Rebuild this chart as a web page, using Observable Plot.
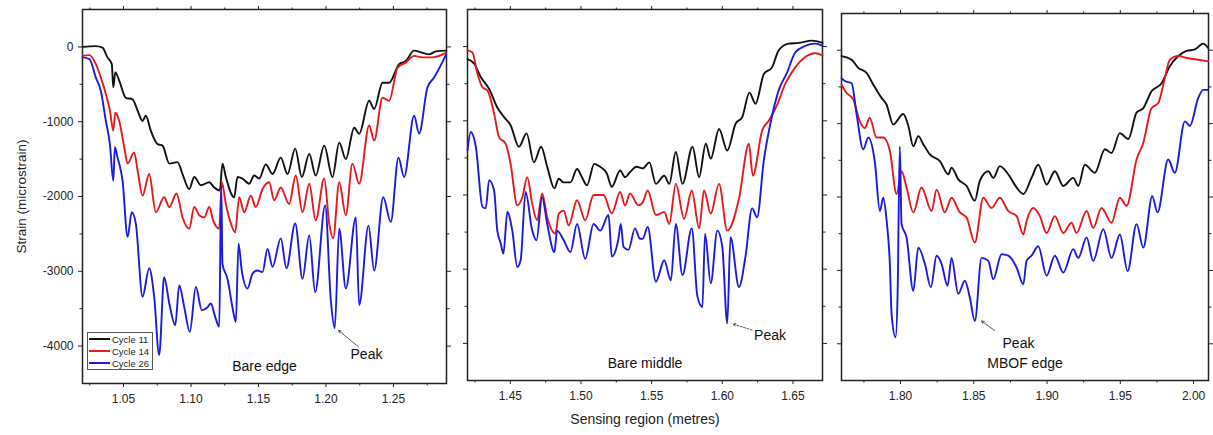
<!DOCTYPE html>
<html>
<head>
<meta charset="utf-8">
<script src="https://cdn.jsdelivr.net/npm/d3@7"></script>
<script src="https://cdn.jsdelivr.net/npm/@observablehq/plot@0.6"></script>
<style>
  body { margin: 0; background: #fff; font-family: "Liberation Sans", Arial, sans-serif; }
  #wrap { position: relative; width: 1213px; height: 435px; overflow: hidden; }
  .panel { position: absolute; top: 0; }
  #legend { position: absolute; left: 87px; top: 332px; width: 66px; border: 1px solid #555; background: #fff; box-sizing: border-box; padding: 0; }
  .row { display: flex; align-items: center; height: 12px; font-size: 9.5px; color: #222; white-space: nowrap; }
  .sw { width: 21px; height: 2.5px; margin: 0 2px 0 1px; flex: none; }
</style>
</head>
<body>
<div id="wrap"></div>
<script>
// ---------- categories / labels ----------
const cycles = ["Cycle 11", "Cycle 14", "Cycle 26"];
const colors = ["#111111", "#e8191b", "#1a1ae0"];
const panelNames = ["Bare edge", "Bare middle", "MBOF edge"];
const yTicksMajor = [0, -1000, -2000, -3000, -4000];
const yTicksMinor = [-500, -1500, -2500, -3500];
const xTicksMajor = [[1.05, 1.10, 1.15, 1.20, 1.25], [1.45, 1.50, 1.55, 1.60, 1.65], [1.80, 1.85, 1.90, 1.95, 2.00]];
const xTicksMinor = [[1.025, 1.075, 1.125, 1.175, 1.225, 1.275], [1.425, 1.475, 1.525, 1.575, 1.625], [1.775, 1.825, 1.875, 1.925, 1.975]];
const xDomains = [[1.0196, 1.2893], [1.4197, 1.6709], [1.7597, 2.0102]];
const yDomain = [-4500, 500];

// ---------- series values: [position (m), strain (microstrain)] ----------
const bareEdge11 = [[1.0196,0],[1.0295,10],[1.0344,-10],[1.0381,-140],[1.0413,-230],[1.0424,-540],[1.0439,-340],[1.0468,-450],[1.0517,-680],[1.0567,-700],[1.0604,-850],[1.0641,-990],[1.0665,-920],[1.0702,-1120],[1.0752,-1300],[1.0789,-1320],[1.0839,-1560],[1.0900,-1540],[1.0937,-1700],[1.0987,-1900],[1.1024,-1740],[1.1073,-1850],[1.1135,-1810],[1.1172,-1880],[1.1213,-1920],[1.1233,-1560],[1.1258,-1740],[1.1320,-2010],[1.1344,-1740],[1.1381,-1760],[1.1431,-1830],[1.1468,-1720],[1.1505,-1760],[1.1554,-1570],[1.1604,-1700],[1.1665,-1480],[1.1715,-1700],[1.1772,-1360],[1.1821,-1740],[1.1876,-1430],[1.1924,-1720],[1.1987,-1320],[1.2048,-1740],[1.2098,-1280],[1.2147,-1500],[1.2209,-1080],[1.2246,-1160],[1.2320,-720],[1.2357,-830],[1.2419,-480],[1.2468,-480],[1.2542,-230],[1.2591,-190],[1.2653,-50],[1.2715,-80],[1.2764,-100],[1.2813,-60],[1.2891,-50]];
const bareEdge14 = [[1.0196,-120],[1.0246,-110],[1.0295,-230],[1.0332,-410],[1.0369,-630],[1.0399,-850],[1.0424,-1120],[1.0439,-880],[1.0468,-990],[1.0505,-1340],[1.0530,-1560],[1.0579,-1410],[1.0604,-1650],[1.0641,-1990],[1.0690,-1700],[1.0739,-2210],[1.0801,-2010],[1.0839,-2140],[1.0893,-1960],[1.0937,-2280],[1.0987,-2430],[1.1024,-2140],[1.1061,-2250],[1.1098,-2280],[1.1135,-2140],[1.1164,-2320],[1.1209,-2430],[1.1228,-1810],[1.1258,-2100],[1.1295,-2360],[1.1327,-2480],[1.1357,-2010],[1.1394,-2210],[1.1443,-1990],[1.1480,-2140],[1.1530,-1900],[1.1579,-1810],[1.1616,-2050],[1.1665,-1880],[1.1727,-2100],[1.1776,-1720],[1.1826,-2210],[1.1876,-1830],[1.1924,-2320],[1.1987,-1760],[1.2024,-2360],[1.2053,-2560],[1.2098,-1810],[1.2147,-2250],[1.2196,-1560],[1.2246,-1830],[1.2320,-1050],[1.2357,-1250],[1.2419,-680],[1.2468,-720],[1.2530,-280],[1.2591,-210],[1.2653,-120],[1.2715,-140],[1.2789,-140],[1.2887,-80]];
const bareEdge26 = [[1.0196,-140],[1.0246,-160],[1.0295,-410],[1.0332,-590],[1.0369,-990],[1.0399,-1300],[1.0424,-1790],[1.0436,-1340],[1.0456,-1480],[1.0493,-1790],[1.0530,-2540],[1.0561,-2210],[1.0591,-2360],[1.0641,-3340],[1.0690,-2960],[1.0727,-3340],[1.0764,-4120],[1.0801,-3080],[1.0839,-3430],[1.0883,-3720],[1.0913,-3190],[1.0950,-3480],[1.0991,-3810],[1.1036,-3210],[1.1080,-3520],[1.1122,-3480],[1.1147,-3430],[1.1179,-3610],[1.1209,-3740],[1.1224,-1850],[1.1233,-2900],[1.1270,-3100],[1.1307,-3480],[1.1332,-3680],[1.1352,-2630],[1.1376,-2990],[1.1419,-3230],[1.1456,-3030],[1.1493,-2990],[1.1530,-3010],[1.1567,-2700],[1.1604,-2940],[1.1665,-2560],[1.1707,-2960],[1.1772,-2360],[1.1826,-3100],[1.1876,-2520],[1.1920,-3280],[1.1994,-2120],[1.2036,-3390],[1.2065,-3760],[1.2098,-2430],[1.2147,-3230],[1.2221,-2280],[1.2246,-3450],[1.2315,-2390],[1.2357,-2990],[1.2424,-2010],[1.2480,-2340],[1.2537,-1480],[1.2579,-1740],[1.2653,-920],[1.2690,-1160],[1.2752,-540],[1.2801,-410],[1.2891,-100]];

const bareMiddle11 = [[1.4197,-170],[1.4244,-230],[1.4291,-410],[1.4350,-570],[1.4408,-820],[1.4456,-950],[1.4502,-1060],[1.4561,-1350],[1.4615,-1170],[1.4667,-1560],[1.4718,-1350],[1.4761,-1620],[1.4812,-1910],[1.4843,-1780],[1.4878,-1830],[1.4925,-1830],[1.4972,-1650],[1.5007,-1760],[1.5042,-1870],[1.5094,-1580],[1.5136,-1620],[1.5183,-1710],[1.5218,-1890],[1.5277,-1670],[1.5312,-1760],[1.5347,-1690],[1.5394,-1620],[1.5437,-1640],[1.5484,-1560],[1.5530,-1850],[1.5589,-1740],[1.5625,-1850],[1.5671,-1420],[1.5718,-1850],[1.5789,-1350],[1.5836,-1760],[1.5883,-1310],[1.5918,-1510],[1.5977,-1110],[1.6035,-1400],[1.6094,-1040],[1.6141,-950],[1.6192,-620],[1.6235,-770],[1.6294,-370],[1.6352,-280],[1.6399,-50],[1.6470,40],[1.6540,50],[1.6634,80],[1.6709,50]];
const bareMiddle14 = [[1.4197,-50],[1.4232,-80],[1.4268,-370],[1.4303,-550],[1.4338,-590],[1.4385,-900],[1.4420,-1220],[1.4467,-1310],[1.4502,-1580],[1.4549,-2140],[1.4585,-2030],[1.4620,-1760],[1.4655,-2120],[1.4690,-2340],[1.4725,-1980],[1.4761,-2300],[1.4819,-2520],[1.4843,-2250],[1.4878,-2210],[1.4913,-2410],[1.4972,-2070],[1.5030,-2340],[1.5089,-2000],[1.5160,-2000],[1.5218,-2250],[1.5277,-1960],[1.5312,-2140],[1.5347,-1980],[1.5406,-2140],[1.5437,-2100],[1.5472,-1940],[1.5530,-2270],[1.5589,-2230],[1.5625,-2390],[1.5671,-1850],[1.5730,-2320],[1.5784,-1940],[1.5836,-2450],[1.5871,-1940],[1.5918,-2250],[1.5977,-1850],[1.6035,-2480],[1.6118,-2050],[1.6188,-1310],[1.6216,-1740],[1.6282,-1130],[1.6329,-1000],[1.6387,-790],[1.6446,-500],[1.6516,-280],[1.6587,-140],[1.6657,-90],[1.6709,-120]];
const bareMiddle26 = [[1.4197,-1400],[1.4220,-1150],[1.4256,-1350],[1.4303,-2160],[1.4326,-2180],[1.4350,-1800],[1.4385,-1940],[1.4408,-2480],[1.4432,-2650],[1.4451,-2790],[1.4479,-2230],[1.4514,-2480],[1.4549,-2970],[1.4573,-2880],[1.4608,-1960],[1.4655,-2480],[1.4685,-2610],[1.4725,-2030],[1.4761,-2390],[1.4812,-2770],[1.4831,-2480],[1.4878,-2610],[1.4925,-2770],[1.4972,-2390],[1.5030,-2860],[1.5089,-2390],[1.5136,-2480],[1.5195,-2270],[1.5218,-2830],[1.5265,-2590],[1.5282,-2390],[1.5301,-2700],[1.5336,-2740],[1.5382,-2450],[1.5418,-2590],[1.5437,-2590],[1.5472,-2430],[1.5530,-3170],[1.5589,-2880],[1.5636,-3150],[1.5671,-2390],[1.5718,-3080],[1.5784,-2450],[1.5824,-3370],[1.5859,-3510],[1.5878,-2520],[1.5918,-3190],[1.5965,-2480],[1.6000,-2700],[1.6035,-3730],[1.6058,-2570],[1.6118,-3240],[1.6164,-2830],[1.6211,-2180],[1.6246,-2300],[1.6294,-1530],[1.6340,-1040],[1.6399,-590],[1.6458,-350],[1.6516,-80],[1.6587,10],[1.6657,40],[1.6709,10]];

const mbofEdge11 = [[1.7597,-80],[1.7666,-130],[1.7711,-240],[1.7768,-310],[1.7814,-470],[1.7870,-650],[1.7904,-740],[1.7950,-1010],[1.8018,-870],[1.8053,-1030],[1.8087,-1310],[1.8121,-1170],[1.8155,-1280],[1.8200,-1420],[1.8268,-1510],[1.8326,-1690],[1.8348,-1600],[1.8394,-1760],[1.8451,-1850],[1.8507,-2050],[1.8541,-1780],[1.8599,-1650],[1.8633,-1740],[1.8678,-1580],[1.8735,-1690],[1.8792,-1870],[1.8838,-1960],[1.8894,-1740],[1.8940,-1560],[1.8997,-1830],[1.9053,-1650],[1.9111,-1850],[1.9179,-1740],[1.9213,-1850],[1.9258,-1560],[1.9326,-1670],[1.9395,-1350],[1.9440,-1400],[1.9497,-1130],[1.9555,-1210],[1.9611,-850],[1.9657,-790],[1.9713,-560],[1.9782,-450],[1.9838,-220],[1.9896,-80],[1.9952,-10],[2.0009,10],[2.0066,90],[2.0100,30]];
const mbofEdge14 = [[1.7597,-470],[1.7631,-580],[1.7677,-670],[1.7722,-970],[1.7756,-1060],[1.7790,-920],[1.7836,-1190],[1.7882,-1190],[1.7927,-1370],[1.7973,-1960],[1.8007,-1650],[1.8041,-1870],[1.8087,-2210],[1.8143,-1870],[1.8212,-2190],[1.8246,-1900],[1.8302,-2210],[1.8348,-2010],[1.8405,-2210],[1.8451,-2280],[1.8507,-2620],[1.8565,-2010],[1.8621,-2150],[1.8678,-2010],[1.8735,-2190],[1.8792,-2260],[1.8838,-2510],[1.8860,-2330],[1.8906,-2150],[1.8951,-2260],[1.8997,-2490],[1.9053,-2260],[1.9111,-2490],[1.9167,-2350],[1.9201,-2490],[1.9270,-2190],[1.9315,-2420],[1.9372,-2150],[1.9440,-2350],[1.9497,-2010],[1.9543,-2120],[1.9611,-1490],[1.9657,-1260],[1.9713,-790],[1.9759,-720],[1.9804,-380],[1.9838,-130],[1.9896,-80],[1.9964,-110],[2.0032,-130],[2.0100,-150]];
const mbofEdge26 = [[1.7597,-380],[1.7620,-420],[1.7666,-450],[1.7700,-870],[1.7745,-1350],[1.7780,-1190],[1.7825,-1530],[1.7859,-2190],[1.7882,-2010],[1.7904,-2300],[1.7927,-2910],[1.7939,-3600],[1.7966,-3910],[1.7980,-3320],[1.7995,-1310],[1.8007,-2370],[1.8041,-2550],[1.8087,-3280],[1.8121,-2690],[1.8166,-2910],[1.8207,-3230],[1.8246,-2800],[1.8280,-2910],[1.8321,-3210],[1.8348,-2830],[1.8394,-3320],[1.8439,-3140],[1.8473,-3370],[1.8507,-3690],[1.8553,-2830],[1.8599,-2870],[1.8633,-3120],[1.8689,-2780],[1.8735,-2800],[1.8792,-2960],[1.8838,-3190],[1.8860,-2870],[1.8894,-2800],[1.8940,-2670],[1.8997,-3070],[1.9053,-2800],[1.9111,-3030],[1.9179,-2710],[1.9213,-2830],[1.9270,-2550],[1.9315,-2870],[1.9384,-2440],[1.9440,-2830],[1.9497,-2510],[1.9550,-3010],[1.9611,-2370],[1.9657,-2690],[1.9718,-1990],[1.9754,-2210],[1.9827,-1490],[1.9872,-1670],[1.9941,-970],[1.9975,-1030],[2.0032,-650],[2.0066,-540],[2.0100,-540]];

// ---------- annotations: "Peak" label positions and arrows (data units) ----------
const peakLabels = [[1.2300, -4110], [1.6338, -3890], [1.8805, -3990]];
const peakArrows = [[1.2241, -4010, 1.2093, -3790], [1.6211, -3820, 1.6077, -3740], [1.8642, -3820, 1.8553, -3690]];

const seriesByPanel = [[bareEdge11, bareEdge14, bareEdge26], [bareMiddle11, bareMiddle14, bareMiddle26], [mbofEdge11, mbofEdge14, mbofEdge26]];

// ---------- layout ----------
const layout = [
  {left: 0,   width: 456, ml: 82, mr: 10, mt: 9,  mb: 52},
  {left: 456, width: 370, ml: 11, mr: 4,  mt: 9,  mb: 55},
  {left: 826, width: 387, ml: 15, mr: 5,  mt: 13, mb: 55}
];

const wrap = document.getElementById("wrap");
const blank = () => "";
const fmtX = d3.format(".2f");

layout.forEach((L, i) => {
  const marks = [];
  marks.push(Plot.axisY({anchor: "left", ticks: yTicksMajor, tickSize: 4, tickPadding: 5, tickFormat: i === 0 ? (d => String(d)) : blank, label: null, fontSize: 12}));
  marks.push(Plot.axisY({anchor: "left", ticks: yTicksMinor, tickSize: 2.5, tickFormat: blank, label: null}));
  marks.push(Plot.axisY({anchor: "right", ticks: yTicksMajor, tickSize: 4, tickFormat: blank, label: null}));
  marks.push(Plot.axisY({anchor: "right", ticks: yTicksMinor, tickSize: 2.5, tickFormat: blank, label: null}));
  marks.push(Plot.axisX({anchor: "bottom", ticks: xTicksMajor[i], tickSize: 4, tickPadding: 7, tickFormat: fmtX, label: null, fontSize: 12}));
  marks.push(Plot.axisX({anchor: "bottom", ticks: xTicksMinor[i], tickSize: 2.5, tickFormat: blank, label: null}));
  marks.push(Plot.axisX({anchor: "top", ticks: xTicksMajor[i], tickSize: 4, tickFormat: blank, label: null}));
  marks.push(Plot.axisX({anchor: "top", ticks: xTicksMinor[i], tickSize: 2.5, tickFormat: blank, label: null}));
  if (i === 0) {
    marks.push(Plot.axisY({anchor: "left", ticks: [], label: "Strain (microstrain)", labelArrow: "none", labelAnchor: "center", labelOffset: 66, fontSize: 13.5}));
  }
  if (i === 1) {
    marks.push(Plot.axisX({anchor: "bottom", ticks: [], label: "Sensing region (metres)", labelArrow: "none", labelAnchor: "center", labelOffset: 43, fontSize: 14}));
  }
  marks.push(Plot.frame({stroke: "#222", strokeWidth: 1.5}));
  seriesByPanel[i].forEach((s, k) => {
    marks.push(Plot.line(s, {x: d => d[0], y: d => d[1], stroke: colors[k], strokeWidth: 1.9, curve: "monotone-x"}));
  });
  marks.push(Plot.text([panelNames[i]], {frameAnchor: "bottom", dy: -13, fontSize: 14, fill: "#111", text: d => d}));
  marks.push(Plot.arrow([peakArrows[i]], {x1: d => d[0], y1: d => d[1], x2: d => d[2], y2: d => d[3], stroke: "#333", strokeWidth: 0.8, headLength: 5, strokeDasharray: i === 1 ? "2,1.5" : null}));
  marks.push(Plot.text([peakLabels[i]], {x: d => d[0], y: d => d[1], text: () => "Peak", fontSize: 14, fill: "#111"}));

  const chart = Plot.plot({
    width: L.width,
    height: 435,
    marginLeft: L.ml, marginRight: L.mr, marginTop: L.mt, marginBottom: L.mb,
    x: {domain: xDomains[i]},
    y: {domain: yDomain},
    style: {fontFamily: "Liberation Sans, Arial, sans-serif", color: "#222", background: "transparent", overflow: "visible"},
    marks
  });
  const div = document.createElement("div");
  div.className = "panel";
  div.style.left = L.left + "px";
  div.appendChild(chart);
  wrap.appendChild(div);
});

// legend (inside left panel)
const legend = document.createElement("div");
legend.id = "legend";
cycles.forEach((c, k) => {
  const row = document.createElement("div");
  row.className = "row";
  const sw = document.createElement("div");
  sw.className = "sw";
  sw.style.background = colors[k];
  const t = document.createElement("span");
  t.textContent = c;
  row.appendChild(sw);
  row.appendChild(t);
  legend.appendChild(row);
});
wrap.appendChild(legend);
</script>
</body>
</html>
